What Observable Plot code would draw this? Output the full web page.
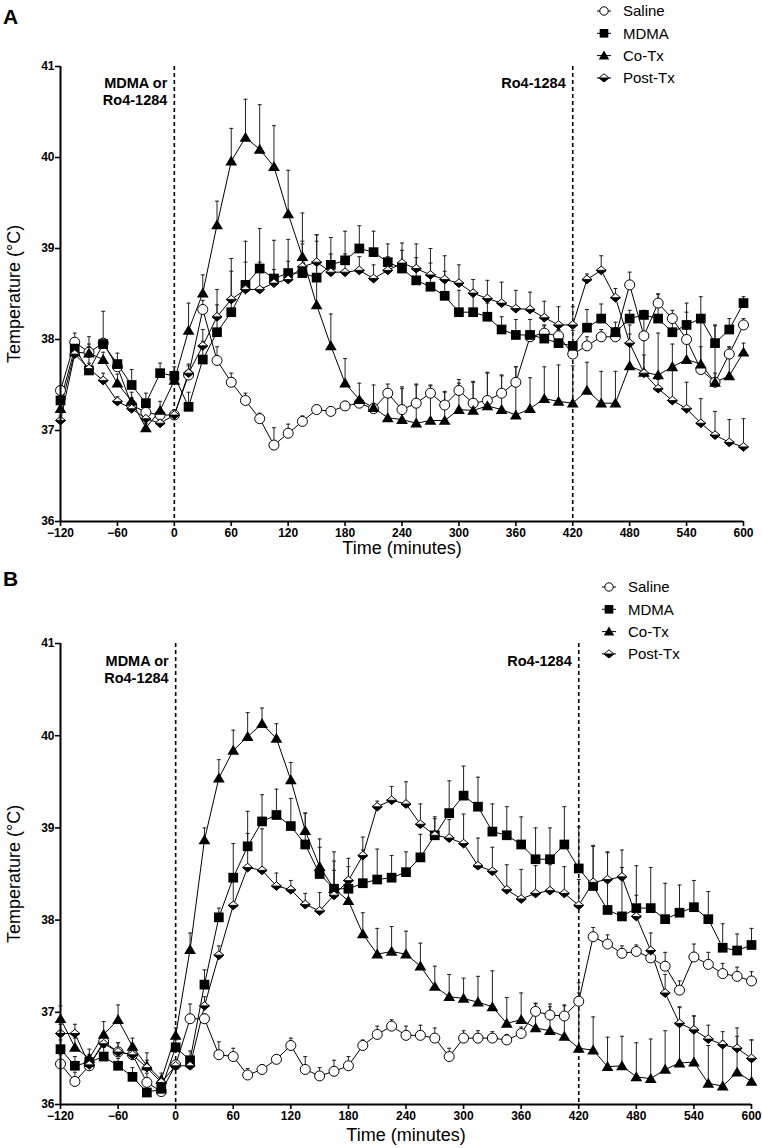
<!DOCTYPE html>
<html><head><meta charset="utf-8">
<script src="https://cdn.jsdelivr.net/npm/d3@7"></script>
<script src="https://cdn.jsdelivr.net/npm/@observablehq/plot@0.6"></script>
<style>
body{margin:0;background:#fff;font-family:"Liberation Sans",Arial,sans-serif;}
#wrap{position:relative;width:762px;height:1148px;overflow:hidden;background:#fff}
.abs{position:absolute}
.letter{position:absolute;left:3px;font-weight:bold;font-size:21px;line-height:1;color:#000}
</style></head><body><div id="wrap"></div><script>
// ---- data ----
const times = [-120,-105,-90,-75,-60,-45,-30,-15,
  0,15,30,45,60,75,90,105,
  120,135,150,165,180,195,210,225,
  240,255,270,285,300,315,330,345,
  360,375,390,405,420,435,450,465,
  480,495,510,525,540,555,570,585,
  600];
const xTicks = [-120,-60,0,60,120,180,240,300,360,420,480,540,600];
const yTicks = [36,37,38,39,40,41];
const seriesNames = ["Saline","MDMA","Co-Tx","Post-Tx"];
const injections = [0,420];
const injectionLabels = ["MDMA or\nRo4-1284","Ro4-1284"];

// Panel A
const salineA = [37.44,37.97,37.86,37.96,37.70,37.28,37.20,37.17,
  37.17,37.61,38.33,37.77,37.53,37.33,37.13,36.84,
  36.97,37.10,37.23,37.21,37.27,37.30,37.24,37.41,
  37.23,37.30,37.41,37.28,37.44,37.30,37.33,37.41,
  37.53,38.03,38.07,38.04,37.84,37.93,38.03,38.03,
  38.60,38.04,38.40,38.23,38.00,37.67,37.53,37.84,
  38.16];
const salineA_err = [0.05,0.10,0.06,0.05,0.06,0.08,0.06,0.05,
  0.06,0.10,0.10,0.15,0.10,0.08,0.06,0.19,
  0.10,0.06,0.05,0.05,0.05,0.05,0.06,0.10,
  0.23,0.20,0.09,0.15,0.12,0.23,0.30,0.20,
  0.17,0.05,0.08,0.06,0.10,0.10,0.08,0.10,
  0.14,0.28,0.10,0.09,0.30,0.25,0.10,0.07,
  0.07];
const mdmaA = [37.33,37.90,37.66,37.95,37.73,37.50,37.30,37.63,
  37.60,37.26,37.78,38.08,38.30,38.60,38.78,38.67,
  38.73,38.73,38.68,38.82,38.87,39.00,38.96,38.85,
  38.78,38.65,38.58,38.48,38.30,38.30,38.25,38.11,
  38.05,38.05,38.01,37.96,37.93,38.13,38.23,38.08,
  38.23,38.27,38.23,38.08,38.16,38.23,37.96,38.11,
  38.40];
const mdmaA_err = [0.05,0.10,0.37,0.36,0.12,0.17,0.11,0.11,
  0.10,0.16,0.20,0.30,0.45,0.48,0.44,0.42,
  0.37,0.35,0.40,0.30,0.32,0.25,0.23,0.20,
  0.20,0.25,0.26,0.27,0.24,0.24,0.15,0.14,
  0.17,0.17,0.15,0.15,0.17,0.20,0.16,0.11,
  0.09,0.05,0.27,0.16,0.24,0.24,0.20,0.12,
  0.07];
const cotxA = [37.24,37.86,37.85,37.78,37.52,37.32,37.03,37.22,
  37.55,38.10,38.51,39.26,39.96,40.22,40.09,39.90,
  39.38,38.91,38.38,37.93,37.52,37.34,37.25,37.14,
  37.12,37.08,37.11,37.11,37.23,37.22,37.27,37.23,
  37.17,37.24,37.35,37.32,37.30,37.44,37.30,37.30,
  37.71,37.64,37.61,37.70,37.78,37.73,37.53,37.60,
  37.86];
const cotxA_err = [0.05,0.05,0.10,0.08,0.10,0.10,0.05,0.10,
  0.10,0.30,0.20,0.26,0.36,0.42,0.49,0.45,
  0.48,0.48,0.77,0.35,0.27,0.18,0.25,0.30,
  0.36,0.43,0.38,0.31,0.29,0.32,0.37,0.37,
  0.53,0.34,0.35,0.40,0.41,0.31,0.35,0.35,
  0.45,0.40,0.46,0.25,0.40,0.48,0.62,0.32,
  0.10];
const posttxA = [37.11,37.84,37.68,37.55,37.32,37.24,37.13,37.08,
  37.17,37.63,37.93,38.25,38.44,38.55,38.55,38.62,
  38.66,38.80,38.85,38.74,38.74,38.76,38.67,38.76,
  38.84,38.78,38.71,38.66,38.62,38.51,38.45,38.40,
  38.34,38.33,38.24,38.16,38.16,38.66,38.76,38.46,
  37.96,37.63,37.46,37.33,37.24,37.08,36.95,36.87,
  36.82];
const posttxA_err = [0.05,0.05,0.06,0.08,0.05,0.05,0.05,0.05,
  0.05,0.10,0.18,0.30,0.45,0.30,0.30,0.15,
  0.20,0.25,0.30,0.20,0.20,0.15,0.15,0.15,
  0.22,0.27,0.29,0.26,0.20,0.15,0.20,0.23,
  0.20,0.19,0.18,0.20,0.20,0.06,0.16,0.10,
  0.10,0.20,0.10,0.40,0.29,0.27,0.26,0.25,
  0.31];

// Panel B
const salineB = [36.44,36.25,36.42,36.68,36.57,36.54,36.24,36.14,
  36.43,36.93,36.93,36.54,36.52,36.32,36.38,36.49,
  36.64,36.38,36.31,36.36,36.42,36.64,36.76,36.85,
  36.75,36.75,36.72,36.52,36.72,36.72,36.72,36.70,
  36.77,37.01,36.97,36.96,37.12,37.82,37.74,37.64,
  37.66,37.59,37.50,37.24,37.60,37.52,37.42,37.39,
  37.34];
const salineB_err = [0.10,0.10,0.05,0.10,0.10,0.08,0.10,0.05,
  0.05,0.16,0.05,0.14,0.09,0.07,0.05,0.05,
  0.08,0.14,0.09,0.12,0.10,0.06,0.09,0.07,
  0.10,0.11,0.11,0.09,0.08,0.08,0.07,0.06,
  0.07,0.09,0.12,0.12,0.20,0.10,0.10,0.08,
  0.07,0.06,0.15,0.10,0.14,0.13,0.11,0.10,
  0.10];
const mdmaB = [36.60,36.42,36.46,36.52,36.42,36.30,36.13,36.17,
  36.62,36.48,37.30,38.03,38.46,38.80,39.07,39.14,
  39.02,38.82,38.50,38.34,38.34,38.40,38.44,38.46,
  38.52,38.68,38.92,39.16,39.35,39.23,38.96,38.92,
  38.82,38.66,38.66,38.82,38.56,38.37,38.11,38.04,
  38.13,38.13,38.01,38.08,38.14,38.01,37.70,37.67,
  37.73];
const mdmaB_err = [0.10,0.10,0.08,0.10,0.08,0.10,0.08,0.06,
  0.08,0.10,0.16,0.10,0.37,0.38,0.29,0.28,
  0.30,0.34,0.29,0.40,0.33,0.36,0.33,0.24,
  0.22,0.25,0.20,0.35,0.32,0.32,0.30,0.31,
  0.30,0.34,0.34,0.41,0.45,0.44,0.62,0.53,
  0.46,0.44,0.39,0.30,0.29,0.30,0.26,0.18,
  0.18];
const cotxB = [36.93,36.62,36.50,36.76,36.92,36.63,36.42,36.27,
  36.75,37.68,38.87,39.54,39.84,39.99,40.13,39.97,
  39.52,38.97,38.58,38.34,38.21,37.85,37.63,37.66,
  37.63,37.50,37.28,37.17,37.15,37.11,37.06,36.88,
  36.92,36.83,36.80,36.74,36.61,36.59,36.41,36.42,
  36.30,36.28,36.38,36.45,36.46,36.23,36.20,36.35,
  36.25];
const cotxB_err = [0.14,0.10,0.10,0.14,0.16,0.09,0.14,0.07,
  0.08,0.18,0.13,0.20,0.22,0.26,0.17,0.16,
  0.19,0.19,0.30,0.30,0.25,0.23,0.28,0.27,
  0.25,0.25,0.22,0.24,0.22,0.28,0.39,0.28,
  0.29,0.26,0.26,0.33,0.60,0.36,0.32,0.32,
  0.37,0.43,0.42,0.60,0.50,0.41,0.49,0.39,
  0.45];
const posttxB = [36.77,36.77,36.43,36.66,36.57,36.54,36.40,36.24,
  36.42,36.42,37.07,37.62,38.16,38.57,38.54,38.37,
  38.33,38.17,38.10,38.27,38.43,38.70,39.23,39.30,
  39.26,39.04,38.92,38.89,38.83,38.59,38.53,38.33,
  38.23,38.29,38.32,38.29,38.16,38.41,38.44,38.47,
  38.04,37.67,37.21,36.88,36.81,36.71,36.65,36.61,
  36.50];
const posttxB_err = [0.10,0.10,0.08,0.10,0.10,0.08,0.08,0.05,
  0.05,0.05,0.10,0.10,0.30,0.37,0.45,0.14,
  0.10,0.12,0.20,0.27,0.15,0.20,0.06,0.15,
  0.24,0.22,0.18,0.20,0.32,0.30,0.26,0.27,
  0.32,0.30,0.28,0.29,0.28,0.39,0.30,0.29,
  0.23,0.19,0.20,0.18,0.15,0.15,0.14,0.22,
  0.20];

// ---- symbols ----
const rad = size => Math.sqrt(size / Math.PI);
const symSquare = {draw(c, s){ const r = rad(s)*0.9; c.rect(-r,-r,2*r,2*r); }};
const symTri = {draw(c, s){ const r = rad(s); c.moveTo(0,-r); c.lineTo(r*1.05,r*0.78); c.lineTo(-r*1.05,r*0.78); c.closePath(); }};
const symDiamond = {draw(c, s){ const r = rad(s); c.moveTo(-r,0); c.lineTo(0,-r*0.85); c.lineTo(r,0); c.lineTo(0,r*0.85); c.closePath(); }};
const symDiamondLow = {draw(c, s){ const r = rad(s); c.moveTo(-r,0); c.lineTo(r,0); c.lineTo(0,r*0.85); c.closePath(); }};
const symCap = {draw(c, s){ const r = rad(s); c.moveTo(-r,0); c.lineTo(r,0); }};

const FONT = '"Liberation Sans", Arial, Helvetica, sans-serif';

function buildPanel(cfg) {
  const series = [
    {name: seriesNames[0], v: cfg.saline, e: cfg.salineErr},
    {name: seriesNames[1], v: cfg.mdma, e: cfg.mdmaErr},
    {name: seriesNames[2], v: cfg.cotx, e: cfg.cotxErr},
    {name: seriesNames[3], v: cfg.post, e: cfg.postErr}
  ];
  const rows = series.flatMap(s => times.map((t, i) => ({series: s.name, t, v: s.v[i], e: s.e[i]})));
  const of = n => rows.filter(d => d.series === n);
  const annot = injections.map((t, i) => ({t, label: injectionLabels[i]}));
  return Plot.plot({
    width: 762, height: cfg.height,
    marginLeft: 60, marginRight: cfg.marginRight, marginTop: cfg.marginTop, marginBottom: cfg.marginBottom,
    style: {fontFamily: FONT, color: "#000", background: "transparent", overflow: "visible"},
    x: {domain: [-120, 600]},
    y: {domain: [36, 41]},
    marks: [
      Plot.axisX({ticks: xTicks, tickFormat: d3.format("d"), tickSize: 5, tickPadding: 2, fontSize: 12, fontWeight: "bold", strokeWidth: 1.6, label: null}),
      Plot.axisY({ticks: yTicks, tickFormat: d3.format("d"), tickSize: 5, tickPadding: 1, fontSize: 12, fontWeight: "bold", strokeWidth: 1.6, label: null}),
      Plot.ruleX(injections, {stroke: "#000", strokeWidth: 1.6, strokeDasharray: "4,3"}),
      Plot.text(annot, {x: "t", text: "label", frameAnchor: "top", textAnchor: "end", lineAnchor: "top", dx: -7, dy: cfg.annotDy, fontSize: 14.5, fontWeight: "bold", lineHeight: 1.2}),
      Plot.ruleX(rows, {x: "t", y1: "v", y2: d => d.v + d.e, stroke: "#222", strokeWidth: 1}),
      Plot.dot(rows, {x: "t", y: d => d.v + d.e, symbol: symCap, r: 2, stroke: "#222", strokeWidth: 1, fill: "none"}),
      Plot.line(rows, {x: "t", y: "v", z: "series", stroke: "#000", strokeWidth: 1}),
      Plot.dot(of("Saline"), {x: "t", y: "v", r: 5, fill: "white", stroke: "#000", strokeWidth: 1}),
      Plot.dot(of("MDMA"), {x: "t", y: "v", r: 5.4, symbol: symSquare, fill: "#000", stroke: "none"}),
      Plot.dot(of("Co-Tx"), {x: "t", y: "v", r: 5.6, symbol: symTri, fill: "#000", stroke: "none"}),
      Plot.dot(of("Post-Tx"), {x: "t", y: "v", r: 5, symbol: symDiamond, fill: "white", stroke: "#000", strokeWidth: 1}),
      Plot.dot(of("Post-Tx"), {x: "t", y: "v", r: 5, symbol: symDiamondLow, fill: "#000", stroke: "#000", strokeWidth: 0.8}),
      Plot.ruleX([-120], {stroke: "#000", strokeWidth: 2}),
      Plot.ruleY([36], {stroke: "#000", strokeWidth: 2}),
      Plot.text(["Time (minutes)"], {text: d => d, frameAnchor: "bottom", textAnchor: "middle", lineAnchor: "middle", dy: cfg.xTitleDy, fontSize: 18}),
      Plot.text(["Temperature (°C)"], {text: d => d, frameAnchor: "left", textAnchor: "middle", lineAnchor: "middle", rotate: -90, dx: -46, fontSize: 18})
    ]
  });
}

function buildLegend(left, top, textX) {
  const svg = d3.create("svg").attr("width", 160).attr("height", 95)
    .style("position", "absolute").style("left", left + "px").style("top", top + "px")
    .style("overflow", "visible");
  const syms = [
    {type: d3.symbolCircle, r: 4.2, fill: "white", stroke: "#000"},
    {type: symSquare, r: 4.8, fill: "#000", stroke: "none"},
    {type: symTri, r: 5, fill: "#000", stroke: "none"},
    {type: symDiamond, r: 4.8, fill: "white", stroke: "#000", low: true}
  ];
  seriesNames.forEach((n, i) => {
    const y = 11 + i * 22.3;
    const g = svg.append("g").attr("transform", `translate(8,${y})`);
    g.append("line").attr("x1", -7).attr("x2", 7).attr("stroke", "#000").attr("stroke-width", 1);
    const s = syms[i];
    g.append("path").attr("d", d3.symbol().type(s.type).size(Math.PI * s.r * s.r)()).attr("fill", s.fill).attr("stroke", s.stroke).attr("stroke-width", 1);
    if (s.low) g.append("path").attr("d", d3.symbol().type(symDiamondLow).size(Math.PI * s.r * s.r)()).attr("fill", "#000").attr("stroke", "#000").attr("stroke-width", 0.8);
    svg.append("text").attr("x", textX).attr("y", y).attr("dy", "0.35em").attr("font-size", 15).attr("font-family", FONT).text(n);
  });
  return svg.node();
}

const wrap = document.getElementById("wrap");

const pA = buildPanel({
  saline: salineA, salineErr: salineA_err, mdma: mdmaA, mdmaErr: mdmaA_err,
  cotx: cotxA, cotxErr: cotxA_err, post: posttxA, postErr: posttxA_err,
  height: 570, marginTop: 66, marginBottom: 49, marginRight: 19, annotDy: 9, xTitleDy: 27
});
const dA = document.createElement("div"); dA.className = "abs"; dA.style.left = "0px"; dA.style.top = "0px";
dA.appendChild(pA); wrap.appendChild(dA);

const pB = buildPanel({
  saline: salineB, salineErr: salineB_err, mdma: mdmaB, mdmaErr: mdmaB_err,
  cotx: cotxB, cotxErr: cotxB_err, post: posttxB, postErr: posttxB_err,
  height: 578, marginTop: 73, marginBottom: 44, marginRight: 11, annotDy: 10, xTitleDy: 31
});
const dB = document.createElement("div"); dB.className = "abs"; dB.style.left = "0px"; dB.style.top = "570px";
dB.appendChild(pB); wrap.appendChild(dB);

wrap.appendChild(buildLegend(596, 0, 27));
wrap.appendChild(buildLegend(601, 576, 27));

const la = document.createElement("div"); la.className = "letter"; la.style.top = "6px"; la.textContent = "A"; wrap.appendChild(la);
const lb = document.createElement("div"); lb.className = "letter"; lb.style.top = "568px"; lb.textContent = "B"; wrap.appendChild(lb);
</script></body></html>
